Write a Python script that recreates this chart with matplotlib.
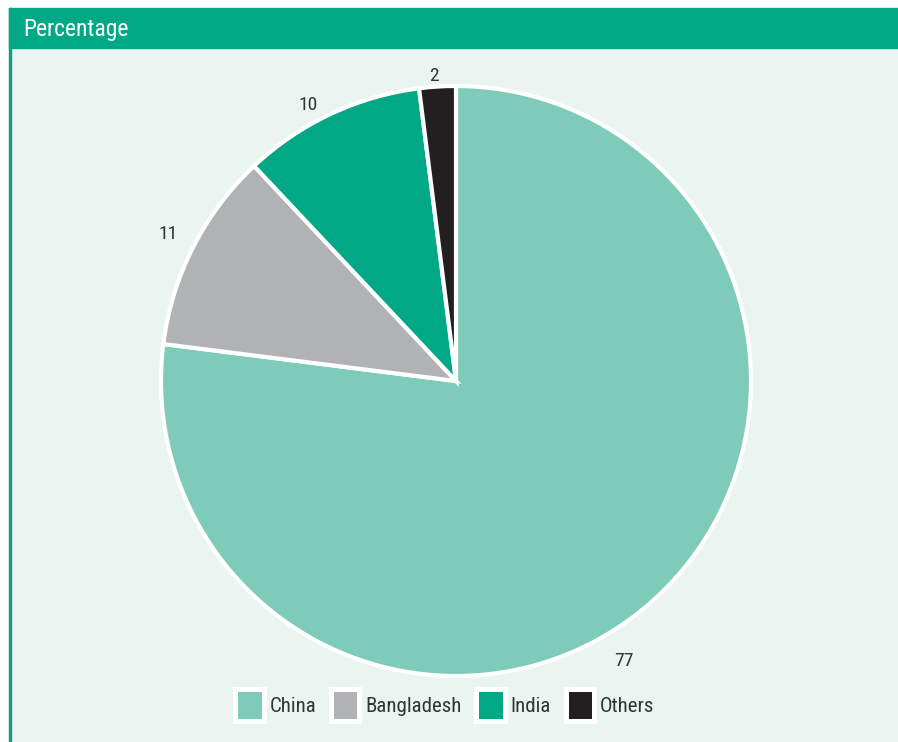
import numpy as np
import matplotlib
matplotlib.use('Agg')
import matplotlib.pyplot as plt
from matplotlib.patches import Rectangle, Patch
from matplotlib import font_manager

# share of total, percent
countries = ['China', 'Bangladesh', 'India', 'Others']
shares = [77, 11, 10, 2]
colors = ['#7ECBB9', '#B1B2B4', '#00A886', '#231F20']

GREEN = '#00A886'
MINT = '#EAF4F1'
TEXT = '#333333'

names = {f.name for f in font_manager.fontManager.ttflist}
narrow = [n for n in ['Liberation Sans Narrow', 'Roboto Condensed', 'Roboto'] if n in names]
plt.rcParams['font.family'] = narrow + ['DejaVu Sans']

W, H = 898, 742
fig = plt.figure(figsize=(W / 100, H / 100), dpi=100)


def px(x, y, w, h):
    # pixel box (top-left origin) -> figure fraction
    return (x / W, 1 - (y + h) / H, w / W, h / H)


def band(x, y, w, h, color, z):
    l, b, fw, fh = px(x, y, w, h)
    fig.patches.append(Rectangle((l, b), fw, fh, transform=fig.transFigure,
                                 color=color, zorder=z))


# panel background, left rule and header band
band(10, 48, W - 10, H - 48, MINT, -3)
band(9, 8, 2, H - 8, '#1B9A80', -2)
band(9, 8, W - 9, 40, GREEN, -1)
fig.text(23 / W, 1 - 36 / H, 'Percentage', color='white', fontsize=17,
         ha='left', va='baseline')

# pie axes: centre (456, 381), radius 295 px
cx, cy, r = 456, 381, 295
span = 1.1
side = 2 * span * r
ax = fig.add_axes(px(cx - side / 2, cy - side / 2, side, side))
ax.set_zorder(5)
ax.set_facecolor('none')

wedges, _ = ax.pie(shares, colors=colors, startangle=90, counterclock=False,
                   radius=1.0, wedgeprops=dict(edgecolor='white', linewidth=3.0))
ax.set_xlim(-span, span)
ax.set_ylim(-span, span)
ax.set_aspect('equal')
ax.axis('off')

# value labels just outside each wedge
label_dist = [1.105, 1.095, 1.06, 1.035]
angle_shift = [-10.5, 0, 3, 0.5]
for w, val, d, s in zip(wedges, shares, label_dist, angle_shift):
    mid = np.deg2rad((w.theta1 + w.theta2) / 2 + s)
    ax.text(d * np.cos(mid), d * np.sin(mid), str(val), ha='center', va='center',
            fontsize=14, color=TEXT)

handles = [Patch(facecolor=c, edgecolor='white', linewidth=3.6) for c in colors]
leg = fig.legend(handles, countries, loc='center', bbox_to_anchor=(445 / W, 1 - 705 / H),
                 ncol=4, frameon=False, fontsize=15, labelcolor=TEXT,
                 handlelength=1.35, handleheight=1.98, handletextpad=0.3,
                 columnspacing=0.7)
leg.set_zorder(6)

fig.savefig('out.png', dpi=100)
